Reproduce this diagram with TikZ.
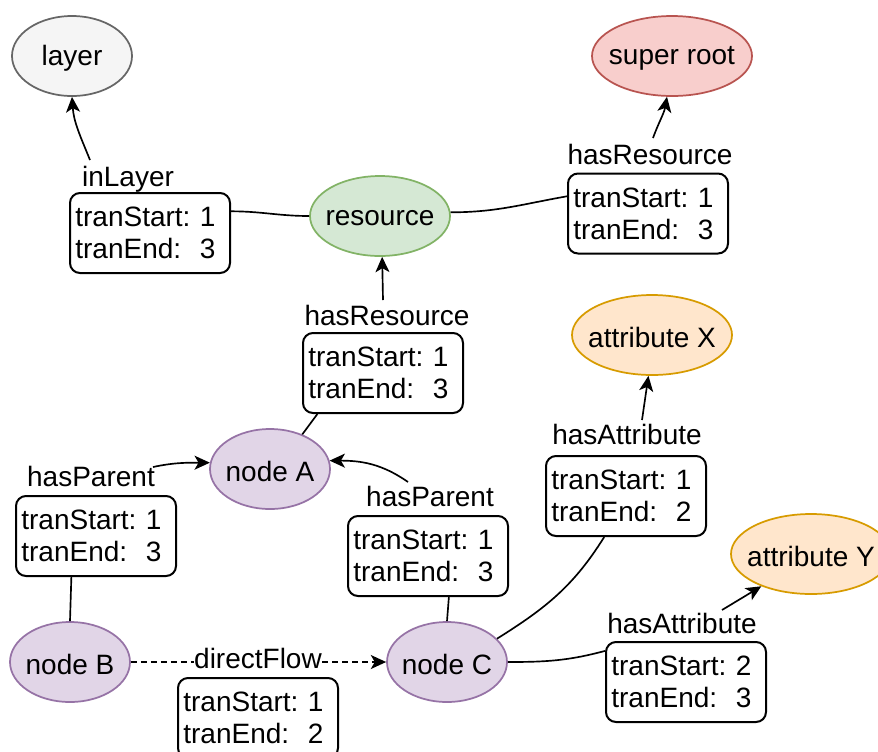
\documentclass[tikz,border=0pt]{standalone}
\usepackage{fontspec}
\setmainfont{Liberation Sans}
\usetikzlibrary{arrows.meta,shapes.geometric}
\definecolor{grayfill}{HTML}{F5F5F5}
\definecolor{graydraw}{HTML}{666666}
\definecolor{redfill}{HTML}{F8CECC}
\definecolor{reddraw}{HTML}{B85450}
\definecolor{greenfill}{HTML}{D5E8D4}
\definecolor{greendraw}{HTML}{82B366}
\definecolor{purplefill}{HTML}{E1D5E7}
\definecolor{purpledraw}{HTML}{9673A6}
\definecolor{orangefill}{HTML}{FFE6CC}
\definecolor{orangedraw}{HTML}{D79B00}
\frenchspacing
\begin{document}
\begin{tikzpicture}[x=0.75pt,y=-0.75pt,
  txt/.style={font=\fontsize{21}{24}\selectfont},
  entity/.style={ellipse, line width=1.3pt, minimum width=90pt,
    minimum height=60pt, inner sep=0pt,
    label={[txt, yshift=-1.5pt]center:#1}},
  grayent/.style={draw=graydraw, fill=grayfill},
  redent/.style={draw=reddraw, fill=redfill},
  greenent/.style={draw=greendraw, fill=greenfill},
  purpleent/.style={draw=purpledraw, fill=purplefill},
  orangeent/.style={draw=orangedraw, fill=orangefill},
  tranbox/.style={draw, rounded corners=7.5pt, line width=1.5pt, fill=white,
    minimum width=120pt, minimum height=60pt, text width=112pt,
    inner xsep=4pt, align=left, txt},
  rel/.style={txt, anchor=base, inner sep=0pt},
  conn/.style={line width=1.25pt},
  arr/.style={conn, -{Stealth[length=11.5pt,width=10.5pt,inset=3pt]}},
  flowdash/.style={dash pattern=on 4.5pt off 3pt}
]
\useasboundingbox (0,0) rectangle (878,751);
\clip (0,0) rectangle (878,751);

% entities
\node[entity=layer, grayent] (layer) at (72,56) {};
\node[entity=super root, redent, minimum width=120pt] (sroot) at (672,56) {};
\node[entity=resource, greenent, minimum width=105pt] (resource) at (380,216) {};
\node[entity=attribute X, orangeent, minimum width=120pt] (attrX) at (652,335) {};
\node[entity=attribute Y, orangeent, minimum width=120pt] (attrY) at (811,554) {};
\node[entity=node A, purpleent] (nodeA) at (270,469) {};
\node[entity=node B, purpleent] (nodeB) at (70,662) {};
\node[entity=node C, purpleent] (nodeC) at (447,662) {};

% relation names
\node[rel] (inlab) at (128,186) {inLayer};
\node[rel] (hrtoplab) at (650,164) {hasResource};
\node[rel] (hrmidlab) at (387,325) {hasResource};
\node[rel] (hpllab) at (91,486) {hasParent};
\node[rel] (hprlab) at (430,506) {hasParent};
\node[rel] (dflab) at (258,668) {directFlow};
\node[rel] (haxlab) at (627,444) {hasAttribute};
\node[rel] (haylab) at (682,633) {hasAttribute};

% transaction ranges
\node[tranbox] (inbox) at (150,233) {tranStart: 1\\tranEnd:\ \ 3};
\node[tranbox] (hrbox) at (648,213.5) {tranStart: 1\\tranEnd:\ \ 3};
\node[tranbox] (mbox) at (383,373) {tranStart: 1\\tranEnd:\ \ 3};
\node[tranbox] (hplbox) at (96,536) {tranStart: 1\\tranEnd:\ \ 3};
\node[tranbox] (hprbox) at (428,556) {tranStart: 1\\tranEnd:\ \ 3};
\node[tranbox] (dfbox) at (258,718) {tranStart: 1\\tranEnd:\ \ 2};
\node[tranbox] (haxbox) at (626,496) {tranStart: 1\\tranEnd:\ \ 2};
\node[tranbox] (haybox) at (686,682) {tranStart: 2\\tranEnd:\ \ 3};

% free ends of the arrows, just above their relation names
\coordinate (intop) at (90,160);
\coordinate (hrtop) at (653,138);
\coordinate (hrmidtop) at (383,300);
\coordinate (hpltop) at (153,467);
\coordinate (hprtop) at (408,482);
\coordinate (haxtop) at (642,420);
\coordinate (haytop) at (722,610);

% resource -> layer
\draw[conn] (inbox.15) to[out=0,in=180] (resource.west);
\draw[arr] (intop) to[out=112,in=-86] (layer.south);
% resource -> super root
\draw[conn] (resource.3) to[out=0,in=190] (hrbox.168);
\draw[arr] (hrtop) to[out=70,in=-100] (sroot.-97);
% node A -> resource
\draw[conn] (mbox.212) -- (nodeA.47);
\draw[arr] (hrmidtop) -- (resource.-87);
% node B -> node A
\draw[conn] (hplbox.239) -- (nodeB.north);
\draw[arr] (hpltop) to[out=12,in=180] (nodeA.174);
% node C -> node A
\draw[conn] (hprbox.-63.4) -- (nodeC.north);
\draw[arr] (hprtop) to[out=145,in=0] (nodeA.8);
% node B -> node C
\draw[conn, flowdash] (nodeB.east) -- (nodeB.east -| dflab.west);
\draw[arr, flowdash] (nodeC.west -| dflab.east) -- (nodeC.west);
% node C -> attributes
\draw[conn] (nodeC.25) to[out=32,in=-122] (haxbox.242);
\draw[arr] (haxtop) -- (attrX.-95);
\draw[conn] (nodeC.east) to[out=0,in=195] (haybox.159);
\draw[arr] (haytop) -- (attrY.213);
\end{tikzpicture}
\end{document}
